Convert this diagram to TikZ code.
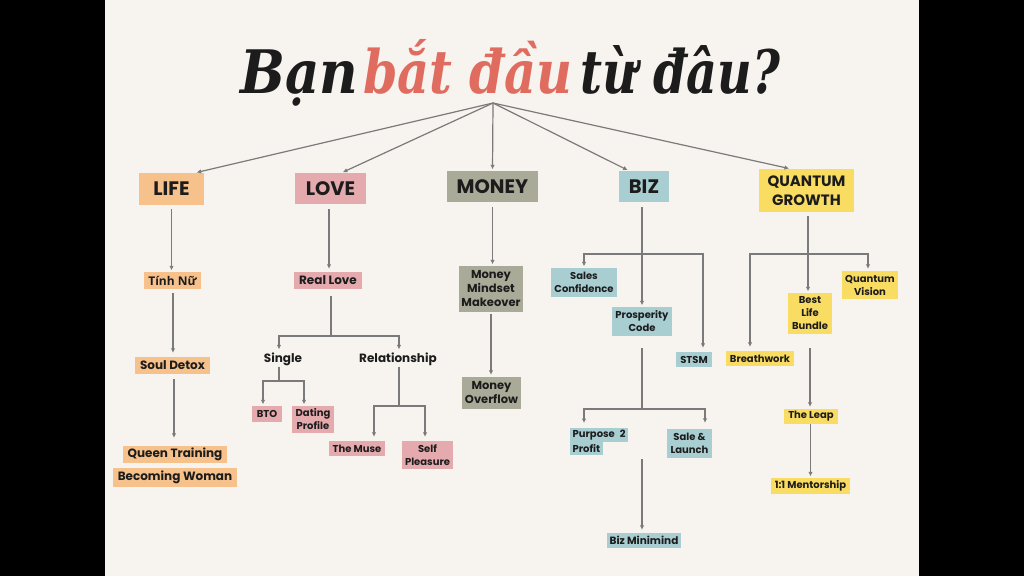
\documentclass[tikz,border=0pt]{standalone}
\usepackage{fontspec}
\usepackage{graphicx}
\usetikzlibrary{arrows.meta}
\setmainfont{Poppins}
\newfontfamily\vnfont{Open Sans}
\newfontfamily\titlefont{DejaVu Serif}
\definecolor{bgc}{HTML}{F7F3EE}
\definecolor{ink}{HTML}{1C1C1C}
\definecolor{lc}{HTML}{7A7A7A}
\definecolor{salmon}{HTML}{E06C5F}
\definecolor{lifec}{HTML}{F6C18B}
\definecolor{lovec}{HTML}{E5AAAE}
\definecolor{moneyc}{HTML}{AAAA98}
\definecolor{bizc}{HTML}{A9CED2}
\definecolor{qc}{HTML}{F9DC62}
\begin{document}
\begin{tikzpicture}[x=1pt,y=-1pt,
  box/.style={rectangle, inner sep=1pt, align=center, text=ink,
    font=\bfseries\fontsize{11.5}{14}\selectfont},
  mid/.style={box, font=\bfseries\fontsize{12}{14}\selectfont},
  sm/.style={box, font=\bfseries\fontsize{10}{13}\selectfont},
  big/.style={box, font=\bfseries\fontsize{19.5}{22}\selectfont},
  plain/.style={inner sep=1pt, text=ink, font=\bfseries\fontsize{12}{14}\selectfont},
  ln/.style={draw=lc, line width=1.2pt},
  arr/.style={ln, -{Latex[length=4.5pt,width=4.5pt]}, shorten >=1.5pt},
  tfont/.style={font=\titlefont\bfseries\itshape\fontsize{60}{70}\selectfont}
]
\useasboundingbox (0,0) rectangle (1024,576);
\fill[black] (0,0) rectangle (1024,576);
\fill[bgc] (105,0) rectangle (919,576);

% title
\node[anchor=base west, inner sep=0, tfont, text=ink] (t1) at (240,93) {\resizebox{118pt}{\height}{Bạn}};
\node[anchor=base west, inner sep=0, tfont, text=salmon] (t2) at (363,93) {\resizebox{209pt}{\height}{bắt đầu}};
\node[anchor=base west, inner sep=0, tfont, text=ink] (t3) at (580,93) {\resizebox{200pt}{\height}{từ đâu?}};
\coordinate (root) at (493,103);

% level 1
\node[big, fill=lifec, minimum width=65pt, minimum height=32pt] (life) at (171.5,189) {LIFE};
\node[big, fill=lovec, minimum width=71pt, minimum height=31pt] (love) at (330.5,188.5) {LOVE};
\node[big, fill=moneyc, minimum width=91pt, minimum height=31pt] (money) at (492.5,186.5) {MONEY};
\node[big, fill=bizc, minimum width=50pt, minimum height=31pt] (biz) at (644,186.5) {BIZ};
\node[box, fill=qc, minimum width=95pt, minimum height=43pt,
  font=\bfseries\fontsize{15}{19.5}\selectfont] (qg) at (806.5,190.5) {QUANTUM\\GROWTH};

% LIFE column
\node[mid, fill=lifec, minimum width=57pt, minimum height=17pt, font=\vnfont\bfseries\fontsize{12}{14}\selectfont] (tinhnu) at (172.5,280.5) {Tính Nữ};
\node[mid, fill=lifec, minimum width=75pt, minimum height=17pt] (soul) at (172.5,365.5) {Soul Detox};
\node[mid, fill=lifec, minimum width=104pt, minimum height=17pt] (queen) at (175,454.5) {Queen Training};
\node[mid, fill=lifec, minimum width=124pt, minimum height=19pt] (becoming) at (175,477.5) {Becoming Woman};

% LOVE column
\node[mid, fill=lovec, minimum width=68pt, minimum height=17pt] (reallove) at (328,280.5) {Real Love};
\node[plain] (single) at (283,359) {Single};
\node[plain] (relation) at (398,359) {Relationship};
\node[sm, fill=lovec, minimum width=30pt, minimum height=16pt] (bto) at (267,414) {BTO};
\node[sm, fill=lovec, minimum width=42pt, minimum height=27pt] (dating) at (313,419.5) {Dating\\Profile};
\node[sm, fill=lovec, minimum width=56pt, minimum height=15pt] (muse) at (357,448.5) {The Muse};
\node[sm, fill=lovec, minimum width=51pt, minimum height=28pt] (selfp) at (427.5,455) {Self\\Pleasure};

% MONEY column
\node[box, fill=moneyc, minimum width=64pt, minimum height=46pt] (mmm) at (491,289) {Money\\Mindset\\Makeover};
\node[box, fill=moneyc, minimum width=59pt, minimum height=32pt] (overflow) at (491.5,393) {Money\\Overflow};

% BIZ column
\node[sm, fill=bizc, minimum width=66pt, minimum height=29pt] (sales) at (584,282.5) {Sales\\Confidence};
\node[sm, fill=bizc, minimum width=60pt, minimum height=29pt] (prosp) at (642,321.5) {Prosperity\\Code};
\node[sm, fill=bizc, minimum width=36pt, minimum height=15pt] (stsm) at (694,359.5) {STSM};
\node[sm, fill=bizc, anchor=north west, minimum height=14pt, inner xsep=2.5pt] (purpose) at (570,428) {Purpose\enspace 2};
\node[sm, fill=bizc, anchor=north west, minimum height=13pt, inner xsep=2.5pt] (profit) at (570,442) {Profit};
\node[sm, fill=bizc, minimum width=45pt, minimum height=29pt] (salel) at (689.5,443.5) {Sale \&\\Launch};
\node[sm, fill=bizc, minimum width=74pt, minimum height=15pt, font=\bfseries\fontsize{10.5}{13}\selectfont] (minimind) at (644,540.5) {Biz Minimind};

% QUANTUM column
\node[sm, fill=qc, minimum width=56pt, minimum height=28pt] (qvision) at (870,285) {Quantum\\Vision};
\node[sm, fill=qc, minimum width=44pt, minimum height=41pt] (bestlife) at (810,313.5) {Best\\Life\\Bundle};
\node[sm, fill=qc, minimum width=68pt, minimum height=15pt] (breath) at (760,358.5) {Breathwork};
\node[sm, fill=qc, minimum width=54pt, minimum height=15pt] (leap) at (811,416.5) {The Leap};
\node[sm, fill=qc, minimum width=79pt, minimum height=16pt] (mentor) at (810.5,486) {1:1 Mentorship};

% root arrows
\draw[arr] (root) -- ([xshift=-9pt]life.north east);
\draw[arr] (root) -- ([xshift=11pt]love.north);
\draw[arr] (root) -- (money.north);
\draw[arr] (root) -- ([xshift=-15pt]biz.north);
\draw[arr] (root) -- ([xshift=-16pt]qg.north);

% LIFE
\draw[arr, shorten <=4pt] (life.south) -- (life.south |- tinhnu.north);
\draw[arr, shorten <=4pt, shorten >=4pt] ([xshift=0.5pt]tinhnu.south) -- ([xshift=0.5pt]tinhnu.south |- soul.north);
\draw[arr, shorten <=5pt, shorten >=8pt] ([xshift=1.5pt]soul.south) -- ([xshift=1.5pt]soul.south |- queen.north);

% LOVE
\coordinate (jlove) at (331,336);
\coordinate (jsingle) at (279,381);
\coordinate (jrel) at (399,406);
\draw[arr, shorten <=5pt, shorten >=3pt] ([xshift=-1.5pt]love.south) -- ([xshift=-1.5pt]love.south |- reallove.north);
\draw[ln, shorten <=7pt] (reallove.south -| jlove) -- (jlove);
\draw[arr, shorten >=2pt] (jlove) -| ([xshift=-4pt]single.north);
\draw[arr, shorten >=2pt] (jlove) -| ([xshift=1pt]relation.north);
\draw[ln] ([xshift=-4pt]single.south) -- (jsingle);
\draw[arr] (jsingle) -| (bto.north -| 263,0);
\draw[arr] (jsingle) -| (dating.north -| 304,0);
\draw[ln] ([xshift=1pt]relation.south) -- (jrel);
\draw[arr, shorten >=4pt] (jrel) -| (muse.north -| 374,0);
\draw[arr, shorten >=4pt] (jrel) -| (selfp.north -| 425,0);

% MONEY
\draw[arr, shorten <=5pt] (money.south) -- (money.south |- mmm.north);
\draw[arr, shorten <=2pt, shorten >=2pt] (mmm.south) -- (mmm.south |- overflow.north);

% BIZ
\coordinate (jbiz) at (642,254);
\coordinate (jprosp) at (642,409);
\coordinate (pstart) at (642,459);
\draw[arr, shorten <=5pt] (biz.south -| jbiz) -- (jbiz |- prosp.north);
\draw[arr] (jbiz) -| (sales.north);
\draw[arr, shorten >=4pt] (jbiz) -| (stsm.north -| 703,0);
\draw[ln, shorten <=12pt] (prosp.south) -- (jprosp);
\draw[arr, shorten >=5pt] (jprosp) -| (purpose.north -| 584,0);
\draw[arr, shorten >=6pt] (jprosp) -| (salel.north -| 705,0);
\draw[arr, shorten >=3pt] (pstart) -- (pstart |- minimind.north);

% QUANTUM
\coordinate (jq) at (808,254);
\draw[arr, shorten <=4pt] (qg.south -| jq) -- (jq |- bestlife.north);
\draw[arr, shorten >=4pt] (jq) -| (breath.north -| 750,0);
\draw[arr, shorten >=2pt] (jq) -| (qvision.north -| 868,0);
\draw[arr, shorten <=14pt, shorten >=2pt] (bestlife.south) -- (bestlife.south |- leap.north);
\draw[arr] ([xshift=-0.5pt]leap.south) -- ([xshift=-0.5pt]leap.south |- mentor.north);
\end{tikzpicture}
\end{document}
